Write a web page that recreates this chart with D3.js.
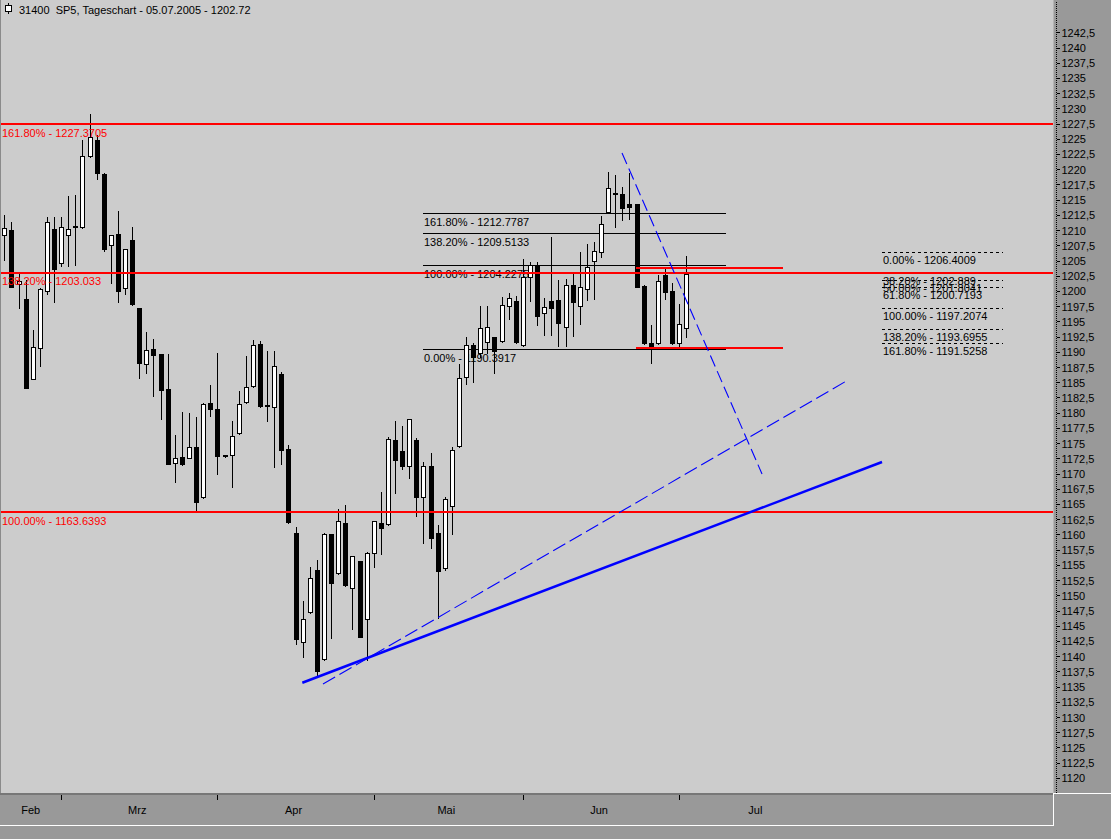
<!DOCTYPE html>
<html><head><meta charset="utf-8">
<script src="https://cdn.jsdelivr.net/npm/d3@7"></script>
<style>
html,body{margin:0;padding:0;background:#999999;}
svg{display:block;}
text{font-family:"Liberation Sans",Arial,sans-serif;font-size:11px;}
</style>
</head><body>
<svg id="chart" width="1111" height="839"></svg>
<script>
// ---- data ----
const open = [
1209.25,1210.02,1201.15,1198.68,1185.49,1190.58,1200.04,1210.18,1204.65,1209.15,
1210.68,1210.46,1222.13,1224.81,1219.22,1207.50,1209.31,1200.44,1208.33,1197.15,
1188.08,1190.47,1189.64,1183.84,1171.68,1172.72,1172.56,1174.36,1166.10,1181.59,
1180.56,1172.97,1173.00,1176.61,1181.71,1184.34,1191.29,1181.26,1180.89,1186.36,
1174.03,1160.23,1142.37,1147.20,1154.15,1139.48,1160.00,1153.61,1161.88,1151.15,
1155.60,1146.05,1156.90,1161.88,1161.66,1175.51,1173.71,1171.29,1175.46,1166.20,
1171.24,1160.18,1154.43,1164.75,1174.53,1185.82,1191.07,1189.86,1191.57,1192.39,
1191.73,1197.61,1198.35,1191.07,1202.25,1204.10,1196.33,1198.35,1198.52,1194.03,
1200.98,1197.58,1200.32,1204.88,1206.35,1213.03,1216.10,1215.93,1214.24,1214.24,
1200.82,1191.45,1191.40,1202.62,1200.00,1191.40,1193.87];
const high = [
1212.48,1211.33,1203.12,1201.80,1193.59,1200.54,1212.15,1212.15,1212.15,1215.61,
1215.77,1224.81,1229.08,1225.63,1219.43,1209.15,1213.14,1206.85,1210.51,1197.15,
1193.21,1192.11,1189.64,1189.64,1176.29,1180.06,1179.90,1179.34,1181.54,1184.55,
1189.81,1172.97,1178.64,1183.57,1189.32,1191.94,1191.73,1190.14,1190.14,1186.64,
1174.69,1161.27,1149.06,1154.60,1155.80,1160.30,1160.07,1164.18,1164.83,1156.40,
1155.63,1157.16,1162.15,1166.92,1176.06,1178.64,1177.81,1178.91,1175.84,1171.95,
1173.33,1161.55,1166.15,1174.41,1188.00,1192.39,1191.40,1197.45,1197.45,1192.44,
1199.01,1199.62,1199.17,1205.25,1204.81,1204.81,1198.80,1208.92,1201.80,1201.92,
1202.79,1206.40,1207.72,1208.10,1212.24,1219.50,1219.06,1217.03,1219.34,1214.29,
1200.98,1194.41,1202.62,1203.89,1201.31,1197.86,1205.75];
const low = [
1205.09,1200.65,1197.25,1184.06,1185.49,1187.67,1199.50,1198.11,1204.15,1204.15,
1204.32,1210.30,1222.00,1218.40,1206.62,1201.36,1198.11,1199.45,1197.70,1185.65,
1186.47,1182.79,1178.96,1171.50,1168.66,1171.40,1172.50,1164.01,1166.00,1179.51,
1169.98,1172.80,1167.74,1176.50,1181.60,1184.20,1181.00,1178.68,1171.13,1171.57,
1161.83,1141.94,1139.91,1147.10,1136.62,1139.40,1143.03,1153.50,1151.60,1144.51,
1143.10,1139.37,1154.70,1156.73,1161.60,1166.89,1170.70,1169.32,1163.07,1158.54,
1157.82,1146.32,1154.15,1160.02,1174.40,1184.67,1185.09,1189.20,1189.86,1186.52,
1191.60,1195.36,1191.50,1191.00,1198.40,1194.41,1192.77,1192.77,1191.01,1191.01,
1192.65,1194.57,1198.52,1198.60,1205.53,1212.90,1210.56,1211.66,1211.78,1200.65,
1191.29,1188.21,1191.30,1198.60,1191.30,1190.96,1192.52];
const close = [
1210.40,1200.70,1201.64,1184.11,1190.74,1200.28,1211.28,1203.56,1210.51,1210.13,
1210.46,1222.13,1225.25,1219.34,1206.95,1209.15,1200.04,1206.85,1197.81,1188.12,
1190.25,1189.53,1183.78,1171.62,1172.51,1171.52,1174.36,1165.38,1181.38,1180.56,
1172.93,1172.87,1176.12,1181.38,1184.17,1191.12,1181.15,1181.16,1187.72,1173.82,
1162.09,1142.77,1146.05,1152.79,1137.61,1160.07,1152.07,1162.15,1151.74,1156.40,
1143.19,1156.90,1162.15,1161.10,1175.68,1172.18,1171.29,1178.91,1166.20,1171.24,
1159.36,1154.04,1165.77,1173.82,1185.65,1191.07,1189.20,1193.87,1194.03,1190.14,
1197.65,1198.80,1191.57,1202.25,1204.27,1195.94,1197.42,1197.25,1194.69,1200.98,
1198.11,1200.73,1203.89,1206.54,1211.00,1216.87,1216.00,1213.58,1213.85,1200.70,
1191.50,1190.84,1201.64,1199.75,1191.40,1194.52,1202.72];

const monthNames = ["Feb","Mrz","Apr","Mai","Jun","Jul"];
const monthBounds = [0, 8, 30, 52, 73, 95, 117];   // candle index of first trading day
const monthTickIdx = [8, 30, 52, 73, 95];

const yTickValues = d3.range(1120, 1242.5 + 0.001, 2.5);

// red full-width retracement levels
const redLevels = [1227.3705, 1203.033, 1163.6393];
const redPct = ["161.80%", "138.20%", "100.00%"];
// black retracement (middle)
const midFibLevels = [1212.7787, 1209.5133, 1204.2275, 1190.3917];
const midFibPct = ["161.80%", "138.20%", "100.00%", "0.00%"];
const midFibIdx = [58.9, 101.55];
// dashed retracement (right)
const rightFibLevels = [1206.4009, 1202.889, 1201.8041, 1200.7193, 1197.2074, 1193.6955, 1191.5258];
const rightFibPct = ["0.00%", "38.20%", "50.00%", "61.80%", "100.00%", "138.20%", "161.80%"];
const rightFibIdx = [123.55, 140.6];
// short red levels
const shortRedLevels = [1203.82, 1190.68];
const shortRedIdx = [88.9, 109.6];
// blue trend lines
const trendSolidIdx = [41.95, 123.55], trendSolidVal = [1135.63, 1171.90];
const trendDash1Idx = [44.86, 118.77], trendDash1Val = [1135.42, 1185.37];
const trendDash2Idx = [86.95, 106.66], trendDash2Val = [1222.67, 1169.93];

const titleText = "31400  SP5, Tageschart - 05.07.2005 - 1202.72";

// ---- layout ----
const W = 1111, H = 839;
const plotR = 1053, plotB = 793;
const svg = d3.select("#chart");
const n = close.length;

const x = d3.scaleLinear().domain([0, n - 1]).range([4.3, 686.3]);
const y = d3.scaleLinear().domain([1120, 1242.5]).range([777.9, 32.3]);
const px = i => Math.round(x(i));
const py = v => Math.round(y(v));

// backgrounds
svg.append("rect").attr("x",0).attr("y",0).attr("width",W).attr("height",H).attr("fill","#999999");
svg.append("rect").attr("x",1).attr("y",0).attr("width",plotR-1).attr("height",plotB).attr("fill","#cccccc");
svg.append("rect").attr("x",0).attr("y",0).attr("width",1).attr("height",plotB).attr("fill","#8a8a8a");
svg.append("rect").attr("x",plotR).attr("y",0).attr("width",1).attr("height",plotB).attr("fill","#b4b4b4");

// x-axis panel
svg.append("rect").attr("x",0).attr("y",793).attr("width",plotR).attr("height",2).attr("fill","#777777");
svg.append("rect").attr("x",0).attr("y",825).attr("width",plotR+1).attr("height",1).attr("fill","#ffffff");
svg.append("rect").attr("x",plotR).attr("y",793).attr("width",1).attr("height",33).attr("fill","#ffffff");
svg.append("rect").attr("x",plotR).attr("y",793).attr("width",W-plotR).attr("height",1).attr("fill","#ffffff");

// y axis: dotted line, ticks, labels
const yAxis = d3.axisRight(y).tickValues(yTickValues).tickSize(3).tickPadding(2)
  .tickFormat(v => (v % 1 === 0 ? String(v) : String(v).replace(".", ",")));
const ga = svg.append("g").attr("transform", "translate(1056.5,0)").call(yAxis);
ga.select(".domain").remove();
ga.selectAll(".tick line").attr("stroke", "#000").attr("shape-rendering","crispEdges");
ga.selectAll(".tick text").attr("fill","#000").style("font-size","11px")
  .style("font-family",'"Liberation Sans",Arial,sans-serif').attr("dy","0.36em");
svg.append("line").attr("x1",1056.5).attr("x2",1056.5).attr("y1",2).attr("y2",plotB)
  .attr("stroke","#000").attr("stroke-dasharray","1,1");

// x-axis month ticks & labels
svg.append("g").selectAll("rect").data(monthTickIdx).join("rect")
  .attr("x", d => px(d)).attr("y", 795).attr("width",1).attr("height",5).attr("fill","#000");
svg.append("g").selectAll("text").data(monthNames).join("text")
  .attr("x", (d,k) => x((monthBounds[k] + monthBounds[k+1]) / 2) - 2)
  .attr("y", 814).attr("text-anchor","middle").attr("fill","#000").text(d => d);

// title
const ic = svg.append("g");
ic.append("rect").attr("x",8).attr("y",3).attr("width",1).attr("height",11).attr("fill","#000");
ic.append("rect").attr("x",5.5).attr("y",5.5).attr("width",6).attr("height",6).attr("fill","#fff").attr("stroke","#000");
svg.append("text").attr("x",19).attr("y",14).attr("fill","#000").style("white-space","pre").attr("xml:space","preserve").text(titleText);

// middle black fibonacci (drawn beneath the candles)
const gm = svg.append("g");
gm.selectAll("rect").data(midFibLevels).join("rect")
  .attr("x", px(midFibIdx[0])).attr("width", px(midFibIdx[1]) - px(midFibIdx[0]))
  .attr("y", d => py(d)).attr("height", 1).attr("fill", "#000");
gm.selectAll("text").data(midFibLevels).join("text")
  .attr("x", px(midFibIdx[0]) + 1).attr("y", d => y(d) + 12.5).attr("fill","#000")
  .text((d,k) => midFibPct[k] + " - " + d);

// candles
const gc = svg.append("g").attr("shape-rendering","crispEdges");
const idx = d3.range(n);
gc.selectAll("rect.wick").data(idx).join("rect").attr("class","wick")
  .attr("x", i => px(i)).attr("width", 1)
  .attr("y", i => py(high[i])).attr("height", i => py(low[i]) - py(high[i]) + 1).attr("fill","#000");
gc.selectAll("rect.body").data(idx).join("rect").attr("class","body")
  .attr("x", i => px(i) - 2).attr("width", 5)
  .attr("y", i => py(Math.max(open[i], close[i])))
  .attr("height", i => Math.max(1, py(Math.min(open[i], close[i])) - py(Math.max(open[i], close[i])) + 1))
  .attr("fill","#000");
gc.selectAll("rect.inner").data(idx.filter(i => close[i] > open[i] && py(open[i]) - py(close[i]) >= 2))
  .join("rect").attr("class","inner")
  .attr("x", i => px(i) - 1).attr("width", 3)
  .attr("y", i => py(close[i]) + 1).attr("height", i => py(open[i]) - py(close[i]) - 1)
  .attr("fill","#fff");

// right dashed fibonacci
const gr = svg.append("g");
gr.selectAll("line").data(rightFibLevels).join("line")
  .attr("x1", px(rightFibIdx[0])).attr("x2", px(rightFibIdx[1]))
  .attr("y1", d => py(d) + 0.5).attr("y2", d => py(d) + 0.5)
  .attr("stroke","#000").attr("stroke-dasharray","3,3").attr("shape-rendering","crispEdges");
gr.selectAll("text").data(rightFibLevels).join("text")
  .attr("x", px(rightFibIdx[0]) + 1).attr("y", d => y(d) + 12).attr("fill","#000")
  .text((d,k) => rightFibPct[k] + " - " + d);

// red lines
const gred = svg.append("g").attr("shape-rendering","crispEdges");
gred.selectAll("rect.full").data(redLevels).join("rect").attr("class","full")
  .attr("x", 1).attr("width", plotR - 1).attr("y", d => py(d) - 1).attr("height", 2).attr("fill","#ff0000");
gred.selectAll("rect.short").data(shortRedLevels).join("rect").attr("class","short")
  .attr("x", px(shortRedIdx[0])).attr("width", px(shortRedIdx[1]) - px(shortRedIdx[0]))
  .attr("y", d => py(d) - 1).attr("height", 2).attr("fill","#ff0000");
svg.append("g").selectAll("text").data(redLevels).join("text")
  .attr("x", 2).attr("y", d => y(d) + 12.5).attr("fill","#ff0000")
  .text((d,k) => redPct[k] + " - " + d);

// blue trend lines
const gb = svg.append("g");
gb.append("line").attr("x1", x(trendSolidIdx[0])).attr("y1", y(trendSolidVal[0]))
  .attr("x2", x(trendSolidIdx[1])).attr("y2", y(trendSolidVal[1]))
  .attr("stroke","#0000ff").attr("stroke-width",2.5);
gb.append("line").attr("x1", x(trendDash1Idx[0])).attr("y1", y(trendDash1Val[0]))
  .attr("x2", x(trendDash1Idx[1])).attr("y2", y(trendDash1Val[1]))
  .attr("stroke","#0000ff").attr("stroke-width",1.1).attr("stroke-dasharray","14,5");
gb.append("line").attr("x1", x(trendDash2Idx[0])).attr("y1", y(trendDash2Val[0]))
  .attr("x2", x(trendDash2Idx[1])).attr("y2", y(trendDash2Val[1]))
  .attr("stroke","#0000ff").attr("stroke-width",1.1).attr("stroke-dasharray","12,5");
</script>
</body></html>
